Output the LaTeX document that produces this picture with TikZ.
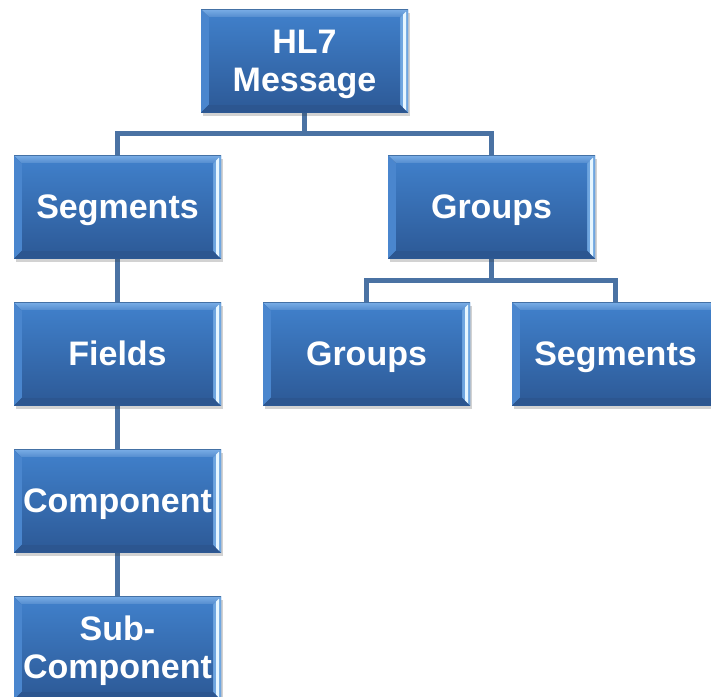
\documentclass[tikz,border=0pt]{standalone}
\usepackage{fontspec}
\setmainfont{Liberation Sans}
\usetikzlibrary{calc,shadows}
\pgfdeclarelayer{background}
\pgfsetlayers{background,main}

\definecolor{boxtop}{HTML}{3F7EC8}
\definecolor{boxbot}{HTML}{2E5C9A}
\definecolor{bevtop}{HTML}{78ACE6}
\definecolor{bevleft}{HTML}{4A86CE}
\definecolor{bevright}{HTML}{6FA6E0}
\definecolor{bevshine}{HTML}{E6F6FF}
\definecolor{bevbot}{HTML}{2C5690}
\definecolor{conn}{HTML}{4A72A3}

\tikzset{
  x=1pt, y=-1pt,
  hbox/.style={
    rectangle, minimum width=207pt, minimum height=103pt, inner sep=0pt,
    align=center, text=white, text height=30pt, text depth=7pt,
    font=\bfseries\fontsize{34}{38}\selectfont,
    top color=boxtop, bottom color=boxbot,
    drop shadow={shadow xshift=2pt, shadow yshift=-3pt, opacity=0.22, fill=black!80},
    path picture={
      \coordinate (nw) at (path picture bounding box.north west);
      \coordinate (ne) at (path picture bounding box.north east);
      \coordinate (sw) at (path picture bounding box.south west);
      \coordinate (se) at (path picture bounding box.south east);
      % bevelled edges
      \fill[top color=bevtop, bottom color=boxtop!90!white]
        (nw) -- (ne) -- ($(ne)+(-8,8)$) -- ($(nw)+(8,8)$) -- cycle;
      \fill[bevleft] (nw) -- ($(nw)+(8,8)$) -- ($(sw)+(8,-8)$) -- (sw) -- cycle;
      \fill[bevbot] (sw) -- ($(sw)+(8,-8)$) -- ($(se)+(-8,-8)$) -- (se) -- cycle;
      \fill[bevright] (ne) -- (se) -- ($(se)+(-8,-8)$) -- ($(ne)+(-8,8)$) -- cycle;
      \fill[bevshine] ($(ne)+(-5,5)$) -- ($(ne)+(-2,2)$) -- ($(se)+(-2,-2)$) -- ($(se)+(-5,-5)$) -- cycle;
      \fill[top color=boxtop, bottom color=boxbot]
        ($(nw)+(8,8)$) rectangle ($(se)+(-8,-8)$);
    }
  },
  twoline/.style={text height=68pt},
  link/.style={draw=conn, line width=5pt}
}

\begin{document}
\begin{tikzpicture}
\useasboundingbox (0,0) rectangle (711,696);

\node[hbox, twoline] (hl) at (304.5, 61) {HL7\\Message};
\node[hbox] (seg1)   at (117.5, 207)  {Segments};
\node[hbox] (grp1)   at (491.5, 207)  {Groups};
\node[hbox] (fields) at (117.5, 354)  {Fields};
\node[hbox] (grp2)   at (366.5, 354)  {Groups};
\node[hbox] (seg2)   at (615.5, 354)  {Segments};
\node[hbox] (comp)   at (117.5, 501)  {Component};
\node[hbox, twoline] (sub) at (117.5, 648) {Sub-\\Component};

\begin{pgfonlayer}{background}
  \coordinate (j1) at ($(hl.south)+(0,21)$);
  \coordinate (j2) at ($(grp1.south)+(0,22)$);
  \draw[link] (hl.south) -- (j1);
  \draw[link] (seg1.north) |- (j1) -| (grp1.north);
  \draw[link] (grp1.south) -- (j2);
  \draw[link] (grp2.north) |- (j2) -| (seg2.north);
  \draw[link] (seg1.south) -- (fields.north);
  \draw[link] (fields.south) -- (comp.north);
  \draw[link] (comp.south) -- (sub.north);
\end{pgfonlayer}
\end{tikzpicture}
\end{document}
